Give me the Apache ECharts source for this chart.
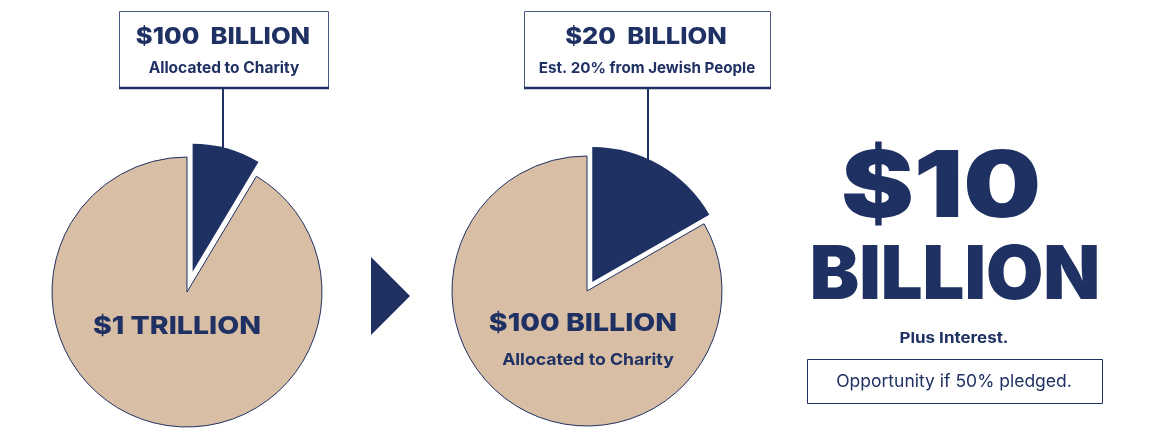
<!DOCTYPE html>
<html>
<head>
<meta charset="utf-8">
<script src="https://cdn.jsdelivr.net/npm/echarts@6/dist/echarts.min.js"></script>
<style>
html,body{margin:0;padding:0;background:#fff;}
#main{width:1162px;height:434px;}
</style>
</head>
<body>
<div id="main"></div>
<script>
// ---- data ----
const pieSliceNames = ['Share', 'Rest'];
const pie1Values = [8.6, 91.4];   // navy slice ~31° of the $1 trillion pie
const pie2Values = [16.7, 83.3];  // navy slice ~60° of the $100 billion pie
const box1Texts = ['$100  BILLION', 'Allocated to Charity'];
const box2Texts = ['$20  BILLION', 'Est. 20% from Jewish People'];
const pie1Label = ['$1 TRILLION'];
const pie2Label = ['$100 BILLION', 'Allocated to Charity'];
const headline = ['$10', 'BILLION', 'Plus Interest.', 'Opportunity if 50% pledged.'];

const NAVY = '#1f3163';
const BEIGE = '#d8bea5';
const FONT = 'Inter, "Open Sans", sans-serif';

function beigeSeries(values, center, r) {
  return {
    type: 'pie', center: center, radius: r, startAngle: 90, clockwise: true, z: 2,
    silent: true, animation: false, label: {show: false}, labelLine: {show: false},
    emphasis: {disabled: true},
    data: values.map((v, i) => ({
      name: pieSliceNames[i], value: v,
      itemStyle: i === 0 ? {color: 'rgba(0,0,0,0)', borderWidth: 0}
                         : {color: BEIGE, borderColor: NAVY, borderWidth: 1}
    }))
  };
}
function navySeries(values, center, r, offset) {
  return {
    type: 'pie', center: center, radius: r, startAngle: 90, clockwise: true, z: 2,
    silent: true, animation: false, label: {show: false}, labelLine: {show: false},
    emphasis: {disabled: true},
    selectedMode: 'single', selectedOffset: offset,
    select: {itemStyle: {color: NAVY}},
    data: values.map((v, i) => ({
      name: pieSliceNames[i], value: v, selected: i === 0,
      itemStyle: i === 0 ? {color: NAVY, borderWidth: 0}
                         : {color: 'rgba(0,0,0,0)', borderWidth: 0}
    }))
  };
}

function txt(x, y, s, size, weight, sx) {
  return {type: 'text', x: x, y: y, z: 20, silent: true, scaleX: sx || 1,
    style: {text: s, fill: NAVY, font: weight + ' ' + size + 'px ' + FONT,
      align: 'center', verticalAlign: 'middle'}};
}
function box(x, y, w, h) {
  return [
    {type: 'rect', z: 10, shape: {x: x + 0.5, y: y + 0.5, width: w, height: h}, silent: true,
     style: {fill: '#fff', stroke: '#4a5683', lineWidth: 1}},
    {type: 'line', z: 11, shape: {x1: x, y1: y + h, x2: x + w + 1, y2: y + h}, silent: true,
     style: {stroke: NAVY, lineWidth: 2.5}}
  ];
}

const chart = echarts.init(document.getElementById('main'), null, {renderer: 'canvas'});
chart.setOption({
  backgroundColor: '#fff',
  series: [
    beigeSeries(pie1Values, [187, 292], 135),
    navySeries(pie1Values, [187, 292], 128, 21),
    beigeSeries(pie2Values, [587, 291], 135),
    navySeries(pie2Values, [587, 291], 135, 10.5)
  ],
  graphic: [
    // connectors
    {type: 'line', z: 1, shape: {x1: 223, y1: 88, x2: 223, y2: 150}, silent: true, style: {stroke: NAVY, lineWidth: 2}},
    {type: 'line', z: 1, shape: {x1: 648, y1: 88, x2: 648, y2: 160}, silent: true, style: {stroke: NAVY, lineWidth: 2}},
    ...box(119, 11, 209, 77),
    ...box(524, 11, 246, 77),
    txt(223, 37.5, box1Texts[0], 23, 800, 1.11),
    txt(224, 68.5, box1Texts[1], 15.5, 700),
    txt(646, 37.5, box2Texts[0], 23, 800, 1.11),
    txt(647, 68.5, box2Texts[1], 15.2, 700),
    // arrow
    {type: 'polygon', shape: {points: [[371, 257], [410, 296], [371, 335]]}, silent: true, style: {fill: NAVY}},
    // pie labels
    txt(177, 326, pie1Label[0], 25, 800, 1.14),
    txt(583, 323, pie2Label[0], 25, 800, 1.14),
    txt(588, 360.5, pie2Label[1], 16.5, 700, 1.07),
    // headline
    txt(941, 189, headline[0], 92, 900, 1.19),
    txt(955, 277, headline[1], 74, 900),
    txt(954, 338.5, headline[2], 15, 700, 1.13),
    {type: 'rect', z: 10, shape: {x: 807.5, y: 359.5, width: 295, height: 44}, silent: true,
     style: {fill: '#fff', stroke: NAVY, lineWidth: 1}},
    txt(954, 381.5, headline[3], 17.5, 400)
  ]
});
</script>
</body>
</html>
